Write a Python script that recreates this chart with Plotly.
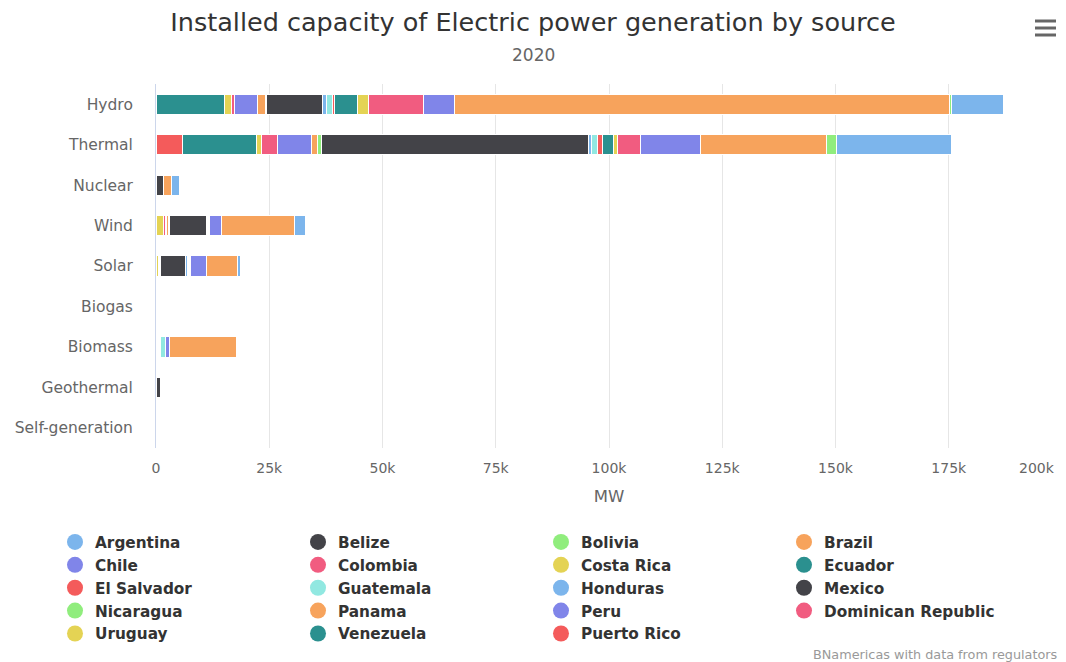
import plotly.graph_objects as go

# Generation sources (category axis) and capacity per country, in MW thousands
sources = ["Hydro", "Thermal", "Nuclear", "Wind", "Solar", "Biogas", "Biomass", "Geothermal", "Self-generation"]

argentina = [11.5, 25.3, 1.7, 2.6, 0.5, 0, 0, 0, 0]
belize = [0.05, 0.1, 0, 0, 0, 0, 0, 0, 0]
bolivia = [0.5, 2.2, 0, 0, 0, 0, 0, 0, 0]
brazil = [109.2, 27.9, 1.9, 16.1, 6.9, 0, 14.9, 0, 0]
chile = [6.9, 13.1, 0, 2.5, 3.6, 0, 0.7, 0, 0]
colombia = [12.1, 5.2, 0, 0.05, 0.2, 0, 0.1, 0, 0]
costa_rica = [2.4, 0.8, 0, 0.35, 0.05, 0, 0, 0.26, 0]
ecuador = [5.0, 2.5, 0, 0, 0.05, 0, 0, 0, 0]
el_salvador = [0.5, 1.0, 0, 0, 0.3, 0, 0.1, 0.2, 0]
guatemala = [1.4, 1.3, 0, 0.1, 0.1, 0, 0.9, 0.05, 0]
honduras = [0.9, 0.7, 0, 0.25, 0.3, 0, 0.2, 0, 0]
mexico = [12.3, 58.9, 1.6, 8.1, 5.45, 0, 0.1, 0.95, 0]
nicaragua = [0.2, 1.0, 0, 0.3, 0, 0, 0.2, 0, 0]
panama = [1.7, 1.3, 0, 0.35, 0.05, 0, 0, 0, 0]
peru = [5.2, 7.5, 0, 0.4, 0.3, 0, 0.2, 0, 0]
dominican_republic = [0.6, 3.6, 0, 0.4, 0.3, 0, 0, 0, 0]
uruguay = [1.6, 1.0, 0, 1.6, 0.25, 0, 0.4, 0, 0]
venezuela = [15.1, 16.3, 0, 0, 0, 0, 0, 0, 0]
puerto_rico = [0, 5.9, 0, 0, 0.2, 0, 0, 0, 0]

countries = ["Argentina", "Belize", "Bolivia", "Brazil", "Chile", "Colombia", "Costa Rica",
             "Ecuador", "El Salvador", "Guatemala", "Honduras", "Mexico", "Nicaragua",
             "Panama", "Peru", "Dominican Republic", "Uruguay", "Venezuela", "Puerto Rico"]
series = [argentina, belize, bolivia, brazil, chile, colombia, costa_rica, ecuador,
          el_salvador, guatemala, honduras, mexico, nicaragua, panama, peru,
          dominican_republic, uruguay, venezuela, puerto_rico]

palette = ["#7cb5ec", "#434348", "#90ed7d", "#f7a35c", "#8085e9",
           "#f15c80", "#e4d354", "#2b908f", "#f45b5b", "#91e8e1"]
colors = [palette[i % len(palette)] for i in range(len(countries))]

# X axis ticks (MW); the last label is placed inside the chart edge separately
tickvals = [0, 25000, 50000, 75000, 100000, 125000, 150000, 175000, 200000]
ticktext = ["0", "25k", "50k", "75k", "100k", "125k", "150k", "175k", ""]
edge_label = "200k"

FONT = "DejaVu Sans"
W, H = 1066, 662
L, R, T, B = 156, 4, 84, 214
PW, PH = W - L - R, H - T - B


def px_x(px):
    return (px - L) / PW


def px_y(py):
    return 1 - (py - T) / PH


fig = go.Figure()

# Stack from the last series so the first legend entry sits at the far end of each bar
for name, vals, col in reversed(list(zip(countries, series, colors))):
    fig.add_trace(go.Bar(
        name=name, y=sources, x=[v * 1000 for v in vals], orientation="h",
        marker=dict(color=col, line=dict(color="white", width=1)),
        legendgroup=name, showlegend=False,
    ))

# Round legend symbols
for name, col in zip(countries, colors):
    fig.add_trace(go.Scatter(
        name=name, x=[None], y=[None], mode="markers",
        marker=dict(color=col, size=16, symbol="circle"),
        legendgroup=name, showlegend=True,
    ))

fig.update_layout(
    width=W, height=H,
    margin=dict(l=L, r=R, t=T, b=B, autoexpand=False),
    barmode="stack", bargap=0.5,
    plot_bgcolor="white", paper_bgcolor="white",
    font=dict(family=FONT, color="#666666"),
    title=dict(
        text="Installed capacity of Electric power generation by source",
        x=0.5, xref="container", xanchor="center",
        y=1 - 22 / H, yref="container", yanchor="middle",
        font=dict(family=FONT, size=25.5, color="#333333"),
    ),
    xaxis=dict(
        range=[0, 200000], tickvals=tickvals, ticktext=ticktext,
        showgrid=True, gridcolor="#e6e6e6", gridwidth=1, zeroline=False,
        showline=False, ticks="", ticklabelstandoff=10,
        automargin=False,
        tickfont=dict(family=FONT, size=14, color="#666666"),
        title=dict(text="MW", standoff=15, font=dict(family=FONT, size=16.5, color="#666666")),
    ),
    yaxis=dict(
        type="category", categoryorder="array", categoryarray=sources,
        autorange="reversed", showgrid=False, zeroline=False,
        showline=True, linecolor="#ccd6eb", linewidth=1, ticks="",
        ticklabelstandoff=19, automargin=False,
        tickfont=dict(family=FONT, size=15.5, color="#666666"),
    ),
    legend=dict(
        orientation="h", xref="paper", yref="paper",
        x=px_x(55), y=px_y(525.5), xanchor="left", yanchor="top",
        entrywidth=198, entrywidthmode="pixels", traceorder="normal",
        font=dict(family=FONT, size=15.3, color="#333333", weight="bold"),
        itemclick=False, itemdoubleclick=False,
    ),
    showlegend=True,
    annotations=[
        dict(text=edge_label, xref="x", yref="paper", x=tickvals[-1], y=px_y(468),
             xanchor="right", yanchor="middle", xshift=-5, showarrow=False,
             font=dict(family=FONT, size=14, color="#666666")),
        dict(text="2020", xref="paper", yref="paper", x=px_x(W / 2), y=px_y(55),
             xanchor="center", yanchor="middle", showarrow=False,
             font=dict(family=FONT, size=17, color="#666666")),
        dict(text="BNamericas with data from regulators", xref="paper", yref="paper",
             x=px_x(1060), y=px_y(654), xanchor="right", yanchor="middle", showarrow=False,
             font=dict(family=FONT, size=12.8, color="#999999")),
    ],
    shapes=[
        dict(type="line", xref="paper", yref="paper",
             x0=px_x(1035), x1=px_x(1056), y0=px_y(yy), y1=px_y(yy),
             line=dict(color="#666666", width=3))
        for yy in (21, 28, 35)
    ],
)

fig.write_html("out.html")
